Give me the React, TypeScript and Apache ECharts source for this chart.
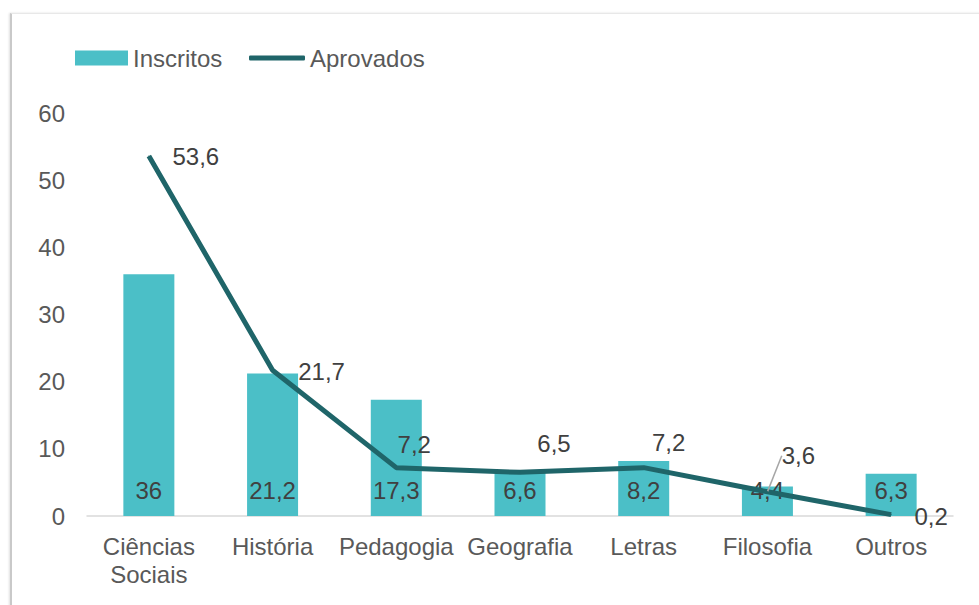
import React, { useEffect, useRef } from "react";
import * as echarts from "echarts";

const categories = ["Ciências\nSociais", "História", "Pedagogia", "Geografia", "Letras", "Filosofia", "Outros"];
const inscritos = [36, 21.2, 17.3, 6.6, 8.2, 4.4, 6.3];
const aprovados = [53.6, 21.7, 7.2, 6.5, 7.2, 3.6, 0.2];
const yTicks = { min: 0, max: 60, interval: 10 };

// label placement (style) for the Aprovados labels: [dx, dy] from the point
const lineLabelShift: [number, number][] = [
  [47, 1],
  [49, 1],
  [18, -23],
  [34, -29],
  [25, -25],
  [31, -36],
  [40, 2],
];
const leaderIndex = 5;

const FONT = "'Liberation Sans', Arial, sans-serif";
const FS = 24;
const fmt = (v: number) => String(v).replace(".", ",");

export default function App() {
  const ref = useRef<HTMLDivElement>(null);
  useEffect(() => {
    if (!ref.current) return;
    const chart = echarts.init(ref.current, undefined, { renderer: "svg" });
    chart.setOption({
      animation: false,
      textStyle: { fontFamily: FONT },
      legend: [
        {
          data: [{ name: "Inscritos", icon: "rect" }],
          left: 75,
          top: 46,
          padding: 0,
          itemWidth: 53,
          itemHeight: 15,
          textStyle: { fontSize: FS, color: "#595959", fontFamily: FONT },
        },
        {
          data: [{ name: "Aprovados", icon: "roundRect" }],
          left: 249,
          top: 46,
          padding: 0,
          itemWidth: 56,
          itemHeight: 5,
          textStyle: { fontSize: FS, color: "#595959", fontFamily: FONT },
        },
      ],
      grid: { left: 87, right: 26, top: 113, bottom: 89, containLabel: false },
      xAxis: {
        type: "category",
        data: categories,
        axisLine: { lineStyle: { color: "#d9d9d9", width: 1.5 } },
        axisTick: { show: false },
        axisLabel: {
          fontSize: FS,
          color: "#595959",
          margin: 16,
          lineHeight: 28,
          interval: 0,
          fontFamily: FONT,
        },
      },
      yAxis: {
        type: "value",
        min: yTicks.min,
        max: yTicks.max,
        interval: yTicks.interval,
        splitLine: { show: false },
        axisLine: { show: false },
        axisTick: { show: false },
        axisLabel: { fontSize: FS, color: "#595959", margin: 22, fontFamily: FONT },
      },
      series: [
        {
          name: "Inscritos",
          type: "bar",
          data: inscritos,
          barWidth: 51,
          itemStyle: { color: "#4BBFC7" },
          label: {
            show: true,
            position: "insideBottom",
            distance: 14,
            fontSize: FS,
            color: "#404040",
            fontFamily: FONT,
            formatter: (p: any) => fmt(p.value),
          },
        },
        {
          name: "Aprovados",
          type: "line",
          data: aprovados.map((v, i) => ({
            value: v,
            labelLine: {
              show: i === leaderIndex,
              length: 0,
              length2: 0,
              lineStyle: { color: "#a6a6a6", width: 1.5 },
            },
          })),
          z: 5,
          symbol: "circle",
          symbolSize: 1,
          showSymbol: true,
          itemStyle: { color: "#1F6569" },
          lineStyle: { color: "#1F6569", width: 5 },
          label: {
            show: true,
            position: "inside",
            fontSize: FS,
            color: "#404040",
            fontFamily: FONT,
            formatter: (p: any) => fmt(p.value),
          },
          labelLine: { show: false, length: 0, length2: 0, lineStyle: { color: "#a6a6a6", width: 1.5 } },
          labelLayout: (params: any) => {
            const s = lineLabelShift[params.dataIndex];
            return { dx: s[0], dy: s[1] };
          },
        },
      ],
    });
    return () => chart.dispose();
  }, []);

  return (
    <div style={{ position: "fixed", left: 0, top: 0, width: 979, height: 605, background: "#fff", overflow: "hidden" }}>
      <div
        style={{
          position: "absolute",
          left: 10,
          top: 13,
          width: 990,
          height: 620,
          borderLeft: "2px solid #c9c9c9",
          borderTop: "1px solid #e8e8e8",
          boxShadow: "-1px 0 2px rgba(0,0,0,0.12)",
        }}
      />
      <div ref={ref} style={{ position: "absolute", left: 0, top: 0, width: 979, height: 605 }} />
    </div>
  );
}
